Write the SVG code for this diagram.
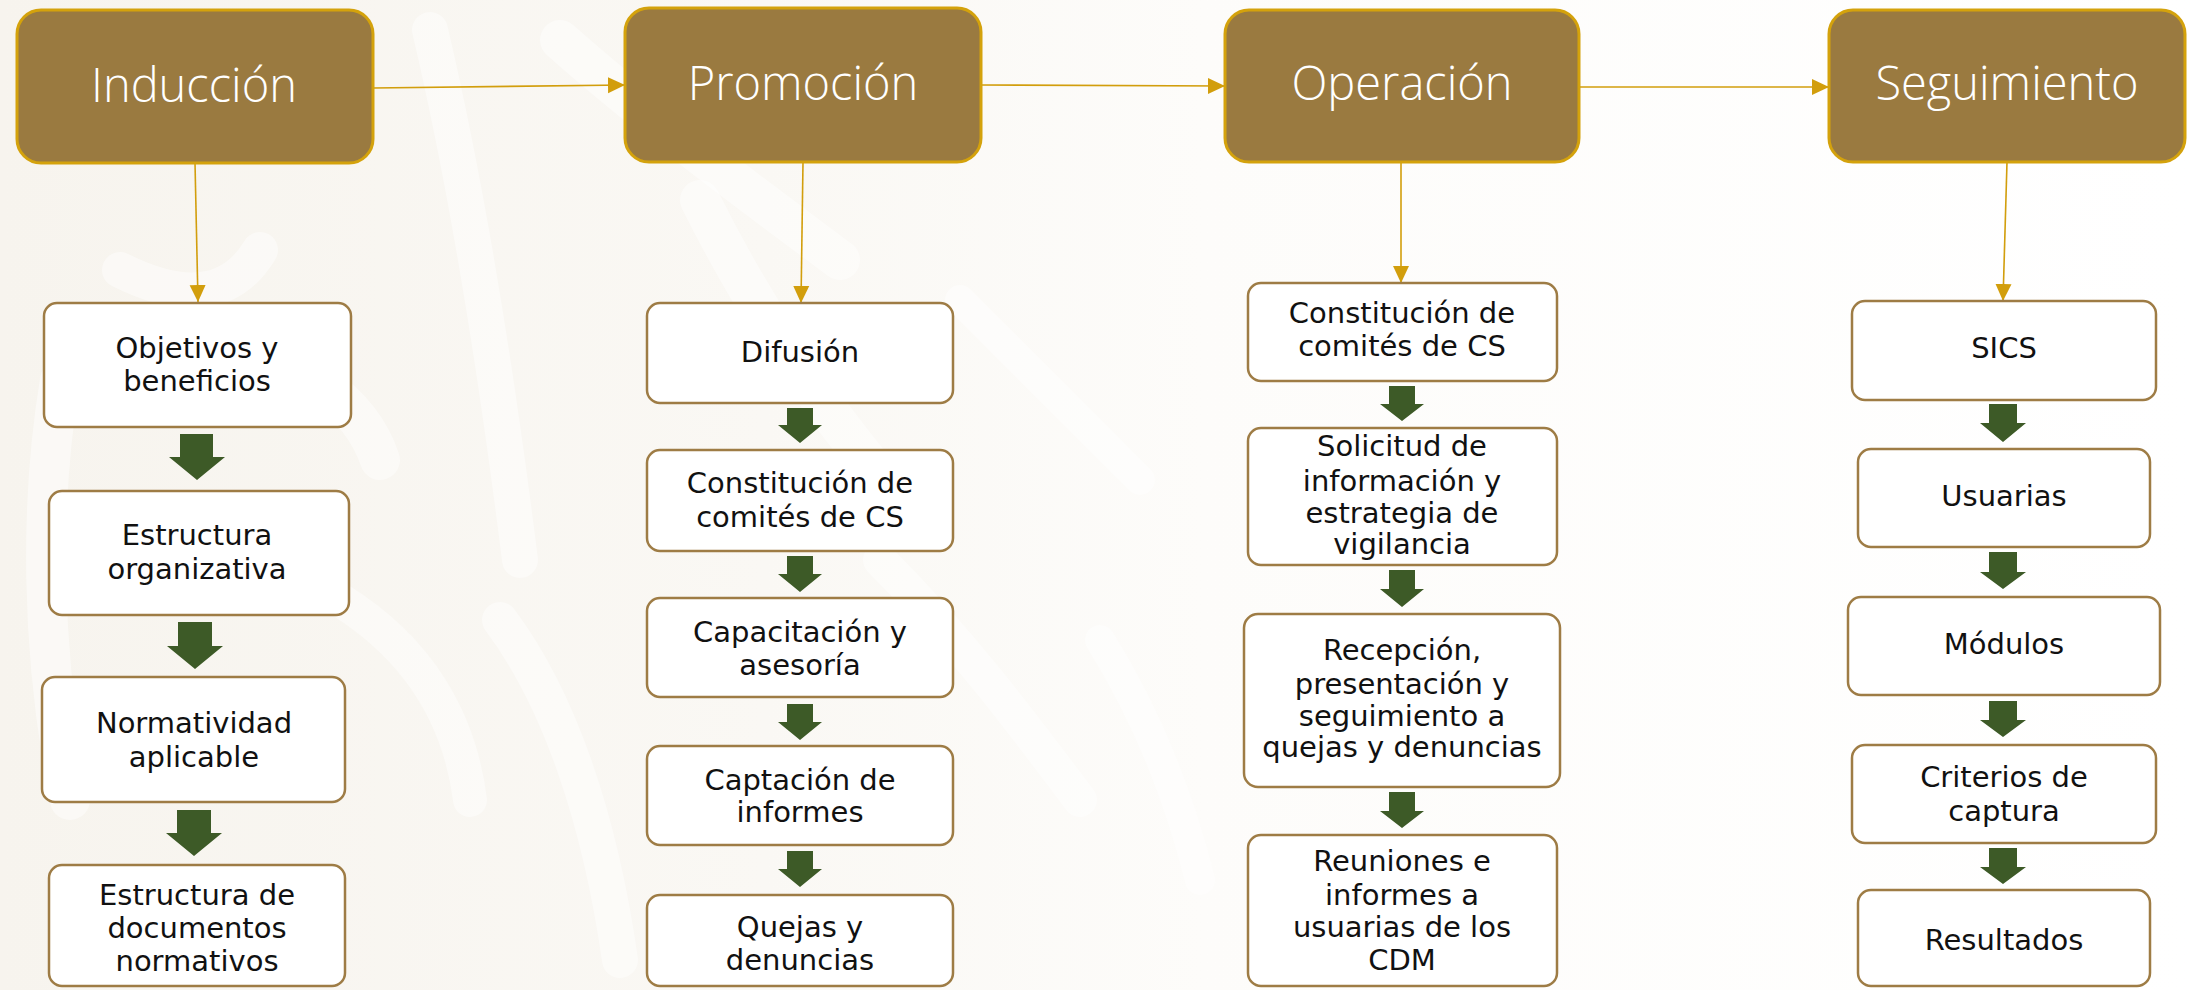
<svg xmlns="http://www.w3.org/2000/svg" width="2188" height="990" viewBox="0 0 2188 990">
<defs>
<linearGradient id="bg" x1="0" y1="0" x2="1" y2="0">
<stop offset="0" stop-color="#F7F4EE"/>
<stop offset="0.35" stop-color="#FAF8F4"/>
<stop offset="0.55" stop-color="#FDFCFA"/>
<stop offset="1" stop-color="#FFFFFF"/>
</linearGradient>
<marker id="ah" markerUnits="userSpaceOnUse" markerWidth="18" markerHeight="18" viewBox="0 0 18 18" refX="17" refY="9" orient="auto">
<path d="M0,1 L17,9 L0,17 Z" fill="#D29E0C"/>
</marker>
<style>
.hdr rect{fill:#9A7A40;stroke:#D4A20C;stroke-width:3}
.hdr text{font-family:"Open Sans","Liberation Sans",sans-serif;font-weight:300;font-size:47px;fill:#FFFFFF;text-anchor:middle}
.box rect{fill:#FFFFFF;stroke:#9E7C45;stroke-width:2.5}
.box text{font-family:"DejaVu Sans","Liberation Sans",sans-serif;font-size:29px;fill:#111111;text-anchor:middle}
.conn line{stroke:#D29E0C;stroke-width:1.6;fill:none}
.garr{fill:#3D5A27}
.deco{fill:none;stroke:#FFFFFF;stroke-linecap:round;opacity:0.45}
</style>
</defs>
<rect x="0" y="0" width="2188" height="990" fill="url(#bg)"/>
<g id="background-decor">
<path class="deco" stroke-width="40" d="M60,380 C40,500 40,650 70,800"/>
<path class="deco" stroke-width="36" d="M120,270 C180,300 230,300 260,250"/>
<path class="deco" stroke-width="40" d="M210,340 C300,360 360,400 380,460"/>
<path class="deco" stroke-width="34" d="M340,600 C420,650 460,720 470,800"/>
<path class="deco" stroke-width="36" d="M430,30 C470,200 500,400 520,560"/>
<path class="deco" stroke-width="40" d="M560,40 C650,120 760,200 840,260"/>
<path class="deco" stroke-width="40" d="M700,200 C760,320 830,420 900,500"/>
<path class="deco" stroke-width="36" d="M500,620 C560,700 600,820 620,960"/>
<path class="deco" stroke-width="34" d="M880,560 C960,640 1020,720 1080,800"/>
<path class="deco" stroke-width="30" d="M960,300 C1020,360 1080,420 1140,480"/>
<path class="deco" stroke-width="30" d="M1100,640 C1150,720 1180,800 1200,880"/>
</g>
<g id="connectors" class="conn">
<line x1="373" y1="88" x2="625" y2="85" marker-end="url(#ah)"/>
<line x1="981" y1="85" x2="1225" y2="86" marker-end="url(#ah)"/>
<line x1="1579" y1="87" x2="1829" y2="87" marker-end="url(#ah)"/>
<line x1="195" y1="163" x2="198" y2="302" marker-end="url(#ah)"/>
<line x1="803" y1="162" x2="801" y2="303" marker-end="url(#ah)"/>
<line x1="1401" y1="162" x2="1401" y2="283" marker-end="url(#ah)"/>
<line x1="2007" y1="162" x2="2003" y2="301" marker-end="url(#ah)"/>
</g>
<g id="flow-arrows" class="garr">
<polygon points="180,434 213,434 213,457 225,457 197,480 169,457 180,457"/>
<polygon points="178,622 212,622 212,646 223,646 195,669 167,646 178,646"/>
<polygon points="177,810 211,810 211,833 222,833 194,856 166,833 177,833"/>
<polygon points="787,408 813,408 813,425 822,425 800,443 778,425 787,425"/>
<polygon points="787,556 813,556 813,574 822,574 800,592 778,574 787,574"/>
<polygon points="787,704 813,704 813,722 822,722 800,740 778,722 787,722"/>
<polygon points="787,851 813,851 813,869 822,869 800,887 778,869 787,869"/>
<polygon points="1389,386 1415,386 1415,404 1424,404 1402,421 1380,404 1389,404"/>
<polygon points="1389,570 1415,570 1415,589 1424,589 1402,607 1380,589 1389,589"/>
<polygon points="1389,792 1415,792 1415,811 1424,811 1402,828 1380,811 1389,811"/>
<polygon points="1989,404 2017,404 2017,423 2026,423 2003,442 1980,423 1989,423"/>
<polygon points="1989,552 2017,552 2017,572 2026,572 2003,589 1980,572 1989,572"/>
<polygon points="1989,701 2017,701 2017,720 2026,720 2003,737 1980,720 1989,720"/>
<polygon points="1989,848 2017,848 2017,867 2026,867 2003,884 1980,867 1989,867"/>
</g>
<g id="n-induccion" class="hdr"><rect x="17" y="10" width="356" height="153" rx="24"/><text x="194" y="102">Inducción</text></g>
<g id="n-promocion" class="hdr"><rect x="625" y="8" width="356" height="154" rx="24"/><text x="803" y="100">Promoción</text></g>
<g id="n-operacion" class="hdr"><rect x="1225" y="10" width="354" height="152" rx="24"/><text x="1402" y="100">Operación</text></g>
<g id="n-seguimiento" class="hdr"><rect x="1829" y="10" width="356" height="152" rx="24"/><text x="2007" y="100">Seguimiento</text></g>

<g id="n-objetivos" class="box"><rect x="44" y="303" width="307" height="124" rx="13"/><text x="197" y="358">Objetivos y</text><text x="197" y="391">beneficios</text></g>
<g id="n-estructura-org" class="box"><rect x="49" y="491" width="300" height="124" rx="13"/><text x="197" y="545">Estructura</text><text x="197" y="579">organizativa</text></g>
<g id="n-normatividad" class="box"><rect x="42" y="677" width="303" height="125" rx="13"/><text x="194" y="733">Normatividad</text><text x="194" y="767">aplicable</text></g>
<g id="n-estructura-doc" class="box"><rect x="49" y="865" width="296" height="121" rx="13"/><text x="197" y="905">Estructura de</text><text x="197" y="938">documentos</text><text x="197" y="971">normativos</text></g>

<g id="n-difusion" class="box"><rect x="647" y="303" width="306" height="100" rx="13"/><text x="800" y="362">Difusión</text></g>
<g id="n-constitucion-p" class="box"><rect x="647" y="450" width="306" height="101" rx="13"/><text x="800" y="493">Constitución de</text><text x="800" y="527">comités de CS</text></g>
<g id="n-capacitacion" class="box"><rect x="647" y="598" width="306" height="99" rx="13"/><text x="800" y="642">Capacitación y</text><text x="800" y="675">asesoría</text></g>
<g id="n-captacion" class="box"><rect x="647" y="746" width="306" height="99" rx="13"/><text x="800" y="790">Captación de</text><text x="800" y="822">informes</text></g>
<g id="n-quejas" class="box"><rect x="647" y="895" width="306" height="91" rx="13"/><text x="800" y="937">Quejas y</text><text x="800" y="970">denuncias</text></g>

<g id="n-constitucion-o" class="box"><rect x="1248" y="283" width="309" height="98" rx="13"/><text x="1402" y="323">Constitución de</text><text x="1402" y="356">comités de CS</text></g>
<g id="n-solicitud" class="box"><rect x="1248" y="428" width="309" height="137" rx="13"/><text x="1402" y="456">Solicitud de</text><text x="1402" y="491">información y</text><text x="1402" y="523">estrategia de</text><text x="1402" y="554">vigilancia</text></g>
<g id="n-recepcion" class="box"><rect x="1244" y="614" width="316" height="173" rx="14"/><text x="1402" y="660">Recepción,</text><text x="1402" y="694">presentación y</text><text x="1402" y="726">seguimiento a</text><text x="1402" y="757">quejas y denuncias</text></g>
<g id="n-reuniones" class="box"><rect x="1248" y="835" width="309" height="151" rx="13"/><text x="1402" y="871">Reuniones e</text><text x="1402" y="905">informes a</text><text x="1402" y="937">usuarias de los</text><text x="1402" y="970">CDM</text></g>

<g id="n-sics" class="box"><rect x="1852" y="301" width="304" height="99" rx="13"/><text x="2004" y="358">SICS</text></g>
<g id="n-usuarias" class="box"><rect x="1858" y="449" width="292" height="98" rx="13"/><text x="2004" y="506">Usuarias</text></g>
<g id="n-modulos" class="box"><rect x="1848" y="597" width="312" height="98" rx="13"/><text x="2004" y="654">Módulos</text></g>
<g id="n-criterios" class="box"><rect x="1852" y="745" width="304" height="98" rx="13"/><text x="2004" y="787">Criterios de</text><text x="2004" y="821">captura</text></g>
<g id="n-resultados" class="box"><rect x="1858" y="890" width="292" height="96" rx="13"/><text x="2004" y="950">Resultados</text></g>
</svg>
